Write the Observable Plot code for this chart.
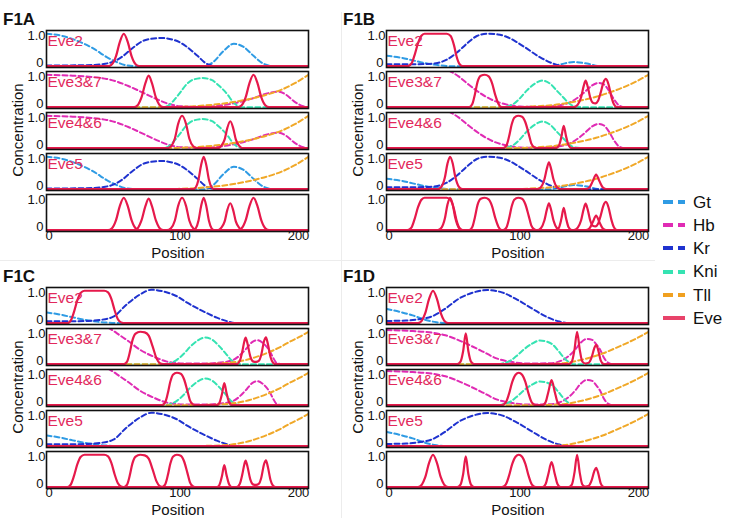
<!DOCTYPE html>
<html><head><meta charset="utf-8">
<script src="https://cdn.jsdelivr.net/npm/d3@7"></script>
<script src="https://cdn.jsdelivr.net/npm/@observablehq/plot@0.6"></script>
<style>
body{margin:0;background:#fff;font-family:"Liberation Sans",Arial,sans-serif;}
#root{position:relative;width:729px;height:518px;overflow:hidden;background:#fff;}
.abs{position:absolute;white-space:nowrap;line-height:1;}
.title{font-weight:bold;font-size:17px;color:#111;}
.xl{font-size:15px;color:#111;transform:translateX(-50%);line-height:0.7;}
.yl{font-size:15px;color:#111;transform:translate(-50%,-50%) rotate(-90deg);}
.leg{font-size:17px;color:#111;}
svg{overflow:visible;}
</style></head><body><div id="root"></div><script>
// ---------- data ----------
const genes = ["Gt","Hb","Kr","Kni","Tll","Eve"];
const colors = ["#2f9be4","#e02bb4","#1f32cf","#35e3b2","#f0a828","#e6194b"];
const legendColors = ["#2f9be4","#e02bb4","#1f32cf","#35e3b2","#f0a020","#e8436a"];
const subLabels = ["Eve2","Eve3&7","Eve4&6","Eve5",""];
const subGenes = [["Gt","Kr"],["Hb","Kni","Tll"],["Hb","Kni","Tll"],["Gt","Kr","Tll"],[]];
const xTicks = [0,100,200];
const yTicks = [0,1];
const panelTitles = ["F1A","F1B","F1C","F1D"];

// Panel A
const A_Gt = [[0,1.0],[10,0.95],[23,0.79],[36,0.54],[46,0.28],[54,0.12],[62,0.02],[70,0],[120,0],[127,0.12],[135,0.46],[143,0.69],[151,0.58],[158,0.32],[166,0.07],[174,0],[200,0]];
const A_Hb = [[0,1.0],[20,0.97],[35,0.93],[46,0.87],[55,0.77],[62,0.66],[74,0.44],[84,0.25],[92,0.12],[102,0.03],[115,0.01],[130,0.04],[143,0.12],[158,0.28],[170,0.44],[177,0.48],[183,0.38],[189,0.18],[196,0.03],[200,0]];
const A_Kr = [[0,0.02],[30,0.03],[42,0.06],[51,0.14],[58,0.3],[66,0.57],[75,0.8],[87,0.87],[98,0.8],[107,0.6],[115,0.33],[122,0.08],[128,0.01],[135,0],[200,0]];
const A_Kni = [[0,0],[88,0],[93,0.05],[97,0.2],[102,0.45],[107,0.71],[112,0.85],[119,0.9],[126,0.84],[132,0.65],[138,0.4],[142,0.18],[146,0.04],[150,0],[200,0]];
const A_Tll = [[0,0],[80,0],[100,0.01],[120,0.05],[140,0.14],[160,0.3],[170,0.41],[180,0.55],[190,0.75],[200,1.0]];
const A_Eve2 = [[0,0],[47,0],[50,0.06],[53,0.3],[56,0.75],[59,1.0],[62,0.75],[65,0.3],[68,0.06],[71,0],[200,0]];
const A_Eve37 = [[0,0],[67,0],[70,0.08],[72.5,0.3],[75.5,0.74],[78,0.97],[80.5,0.74],[83.5,0.3],[86,0.08],[89,0],[146,0],[149,0.06],[152,0.3],[155,0.75],[158,1.0],[161,0.75],[164,0.3],[167,0.06],[170,0],[200,0]];
const A_Eve46 = [[0,0],[92,0],[95,0.06],[98,0.3],[100.5,0.75],[103.5,1.0],[106.5,0.75],[109,0.3],[112,0.06],[115,0],[131,0],[133.5,0.08],[136,0.27],[138,0.62],[140.3,0.83],[142.5,0.62],[144.5,0.27],[147,0.08],[149.5,0],[200,0]];
const A_Eve5 = [[0,0],[112,0],[114,0.06],[116,0.29],[118,0.74],[120,1.0],[122,0.74],[124,0.29],[126,0.06],[128,0],[200,0]];

// Panel B
const B_Gt = [[0,0.32],[10,0.27],[20,0.18],[30,0.09],[40,0.03],[50,0],[125,0],[133,0.06],[143,0.13],[153,0.08],[163,0],[200,0]];
const B_Hb = [[0,1.6],[40,1.25],[49,1.1],[55,0.95],[62,0.72],[72,0.42],[82,0.2],[92,0.08],[102,0.02],[115,0.01],[128,0.04],[140,0.15],[150,0.42],[157,0.67],[162,0.75],[166,0.7],[170,0.5],[174,0.22],[178,0.04],[182,0],[200,0]];
const B_Kr = [[0,0.06],[20,0.06],[32,0.07],[39,0.1],[46,0.2],[54,0.43],[62,0.72],[69,0.93],[77,1.0],[85,0.98],[92,0.9],[105,0.6],[117,0.28],[128,0.07],[138,0],[200,0]];
const B_Kni = [[0,0],[88,0],[93,0.03],[97,0.1],[102,0.28],[107,0.51],[113,0.72],[119,0.82],[125,0.72],[130,0.51],[135,0.3],[139,0.13],[144,0.02],[150,0],[200,0]];
const B_Tll = [[0,0],[90,0],[110,0.02],[130,0.08],[145,0.18],[160,0.32],[170,0.45],[180,0.6],[190,0.78],[200,1.0]];
const B_Eve2 = [[0,0],[16,0],[19,0.08],[21.5,0.35],[24,0.7],[26.5,0.93],[29,1.0],[46,1.0],[49,0.93],[51.5,0.65],[53.5,0.3],[55.5,0.08],[58,0],[200,0]];
const B_Eve37 = [[0,0],[63,0],[65.5,0.1],[67.5,0.4],[69.5,0.78],[72,0.97],[75,1.0],[78,0.95],[80.5,0.75],[83,0.38],[85.5,0.1],[88,0],[143,0],[146,0.08],[148.5,0.3],[150.5,0.65],[152,0.82],[153.5,0.65],[155.5,0.3],[157.5,0.14],[159.5,0.12],[161.5,0.2],[163.5,0.45],[165.5,0.75],[167.5,0.87],[169.5,0.7],[171.5,0.35],[173.5,0.1],[176,0],[200,0]];
const B_Eve46 = [[0,0],[89,0],[91.5,0.08],[93.5,0.35],[95.5,0.72],[97.5,0.94],[100.5,1.0],[103.5,0.97],[106,0.8],[108.5,0.45],[110.5,0.15],[113,0.02],[115,0],[129,0],[131.5,0.07],[133.5,0.35],[135.3,0.69],[137,0.38],[139,0.09],[141.5,0],[200,0]];
const B_Eve5 = [[0,0],[39,0],[42,0.08],[44.5,0.35],[46.5,0.78],[48.5,1.0],[50.5,0.8],[52.5,0.38],[55,0.09],[58,0],[115,0],[118,0.07],[120.5,0.3],[122.5,0.65],[124,0.83],[125.5,0.65],[127.5,0.3],[130,0.07],[133,0],[152,0],[155,0.06],[157.5,0.25],[160,0.45],[162.5,0.25],[165,0.06],[168,0],[200,0]];

// Panel C
const C_Gt = [[0,0.33],[10,0.27],[20,0.18],[30,0.1],[40,0.04],[50,0.01],[58,0],[200,0]];
const C_Hb = [[0,1.6],[40,1.3],[46,1.15],[51,1.03],[56,0.89],[61.5,0.74],[72,0.43],[82,0.23],[92,0.08],[105,0.02],[120,0.02],[133,0.05],[143,0.14],[149,0.33],[153,0.5],[157,0.68],[161,0.74],[165,0.66],[168,0.54],[171,0.36],[173,0.2],[176,0.03],[180,0],[200,0]];
const C_Kr = [[0,0.06],[20,0.06],[32,0.07],[41,0.1],[51,0.2],[61,0.57],[72,0.9],[80,1.03],[90,0.97],[100,0.82],[107,0.64],[117,0.42],[123,0.3],[130,0.17],[138,0.06],[145,0],[200,0]];
const C_Kni = [[0,0],[90,0],[95,0.04],[100,0.15],[105,0.33],[110,0.55],[115,0.72],[121,0.82],[127,0.74],[132,0.55],[137,0.32],[141,0.13],[145,0.02],[150,0],[200,0]];
const C_Tll = [[0,0],[100,0],[120,0.01],[135,0.03],[145,0.07],[155,0.16],[168,0.34],[178,0.52],[186,0.7],[193,0.84],[200,1.0]];
const C_Eve2 = [[0,0],[16,0],[18.5,0.08],[21,0.35],[23.5,0.7],[26,0.93],[29,1.0],[44,1.0],[47,0.95],[49.5,0.75],[52,0.4],[54.5,0.12],[57,0.02],[60,0],[200,0]];
const C_Eve37 = [[0,0],[59,0],[61.5,0.08],[63.5,0.35],[65.5,0.72],[68,0.94],[71.5,1.0],[75,0.98],[78,0.88],[81,0.55],[84,0.18],[86.5,0.03],[89,0],[145,0],[147.5,0.1],[149.5,0.4],[151,0.7],[152,0.82],[153.5,0.62],[155.5,0.25],[158,0.08],[160,0.07],[162,0.1],[164,0.3],[166,0.7],[167.5,0.83],[169,0.62],[171,0.22],[173,0.04],[175,0],[200,0]];
const C_Eve46 = [[0,0],[88,0],[90.5,0.08],[92.5,0.35],[94.5,0.72],[96.5,0.94],[99.5,1.0],[102.5,0.97],[105,0.8],[107.5,0.45],[109.5,0.15],[112,0.02],[114,0],[130,0],[132,0.07],[134,0.35],[135.7,0.68],[137.4,0.38],[139.4,0.09],[141.5,0],[200,0]];
const C_Eve5 = [[0,0],[200,0]];

// Panel D
const D_Gt = [[0,0.44],[10,0.35],[20,0.24],[30,0.1],[38,0.03],[48,0],[200,0]];
const D_Hb = [[0,1.05],[20,1.02],[35,0.97],[45,0.89],[52,0.79],[59,0.67],[72,0.42],[84,0.18],[97,0.06],[110,0.02],[125,0.03],[133,0.1],[139,0.25],[144,0.45],[148,0.65],[153,0.78],[157,0.75],[160,0.62],[163,0.45],[166,0.2],[169,0.05],[173,0],[200,0]];
const D_Kr = [[0,0.07],[15,0.08],[26,0.13],[34,0.2],[45,0.45],[55,0.75],[65,0.93],[77,1.02],[88,0.95],[100,0.72],[112,0.43],[122,0.2],[132,0.05],[140,0],[200,0]];
const D_Kni = [[0,0],[85,0],[90,0.04],[95,0.12],[100,0.28],[105,0.46],[111,0.63],[117,0.73],[122,0.7],[127,0.6],[131,0.42],[135,0.22],[139,0.07],[143,0],[200,0]];
const D_Tll = [[0,0],[110,0],[125,0.01],[135,0.03],[145,0.1],[155,0.2],[165,0.33],[175,0.5],[185,0.68],[193,0.84],[200,1.0]];
const D_Eve2 = [[0,0],[24,0],[27,0.08],[29.5,0.3],[32.5,0.75],[35.5,1.0],[38.5,0.75],[41.5,0.3],[44,0.08],[47,0],[200,0]];
const D_Eve37 = [[0,0],[54,0],[56.5,0.08],[58.5,0.4],[60.5,0.95],[62.5,0.4],[64.5,0.08],[67,0],[139,0],[141.5,0.08],[143.5,0.45],[145.5,1.0],[147.5,0.45],[149.5,0.08],[152,0.02],[154.5,0.05],[156.5,0.2],[158.5,0.48],[160,0.6],[161.5,0.45],[163.5,0.12],[166,0],[200,0]];
const D_Eve46 = [[0,0],[88,0],[91,0.08],[93.5,0.35],[96,0.72],[98.5,0.94],[101,1.0],[103.5,0.94],[106,0.72],[108.5,0.35],[111,0.08],[114,0],[119,0],[121.5,0.1],[123.5,0.4],[126,0.77],[128.5,0.4],[130.5,0.1],[133,0],[200,0]];
const D_Eve5 = [[0,0],[200,0]];

// ---------- layout ----------
const panelData = [
  {gap:{Gt:A_Gt,Hb:A_Hb,Kr:A_Kr,Kni:A_Kni,Tll:A_Tll}, eve:[A_Eve2,A_Eve37,A_Eve46,A_Eve5]},
  {gap:{Gt:B_Gt,Hb:B_Hb,Kr:B_Kr,Kni:B_Kni,Tll:B_Tll}, eve:[B_Eve2,B_Eve37,B_Eve46,B_Eve5]},
  {gap:{Gt:C_Gt,Hb:C_Hb,Kr:C_Kr,Kni:C_Kni,Tll:C_Tll}, eve:[C_Eve2,C_Eve37,C_Eve46,C_Eve5]},
  {gap:{Gt:D_Gt,Hb:D_Hb,Kr:D_Kr,Kni:D_Kni,Tll:D_Tll}, eve:[D_Eve2,D_Eve37,D_Eve46,D_Eve5]}
];
const panelPos = [{left:0,top:0},{left:340,top:0},{left:0,top:257},{left:340,top:257}];
const W = 322, H = 257, ML = 46, MR = 14, MT = 28, MB = 24;
const font = '"Liberation Sans",Arial,sans-serif';

function panelPlot(p){
  const gapRows = [], eveRows = [], labelRows = [];
  subGenes.forEach((gs,i) => gs.forEach(g => p.gap[g].forEach(([x,y]) => gapRows.push({s:i+1,gene:g,key:g+i,x,y}))));
  p.eve.forEach((arr,i) => arr.forEach(([x,y]) => {
    eveRows.push({s:i+1,gene:"Eve",key:"E"+i,x,y});
    eveRows.push({s:5,gene:"Eve",key:"E"+i,x,y});
  }));
  subLabels.forEach((t,i) => { if (t) labelRows.push({s:i+1,t}); });
  return Plot.plot({
    width:W, height:H, marginTop:MT, marginLeft:ML, marginRight:MR, marginBottom:MB,
    style:{fontFamily:font, background:"transparent", overflow:"visible"},
    x:{domain:[0,200]},
    y:{domain:[-0.04,1.1]},
    fy:{domain:[1,2,3,4,5], axis:null, paddingInner:0.1, paddingOuter:0},
    color:{domain:genes, range:colors},
    marks:[
      Plot.line(gapRows,{x:"x",y:"y",z:"key",stroke:"gene",fy:"s",curve:"monotone-x",strokeWidth:2,strokeDasharray:"5,3",clip:true}),
      Plot.line(eveRows,{x:"x",y:"y",z:"key",stroke:"gene",fy:"s",curve:"monotone-x",strokeWidth:2.2,clip:true}),
      Plot.frame({stroke:"#111",strokeWidth:1.6}),
      Plot.text(labelRows,{fy:"s",text:"t",frameAnchor:"top-left",dx:1,dy:11,lineAnchor:"middle",textAnchor:"start",fill:"#e2285c",fontSize:15.5}),
      Plot.axisY({ticks:[yTicks[1]],tickFormat:() => "1.0",tickSize:0,tickPadding:1,dy:2.5,fontSize:13,label:null,color:"#111"}),
      Plot.axisY({ticks:[yTicks[0]],tickFormat:() => "0",tickSize:0,tickPadding:3,dy:-3.5,fontSize:13,label:null,color:"#111"}),
      Plot.axisX({ticks:xTicks.slice(0,2),tickSize:0,tickPadding:1,dx:2.5,dy:-2,fontSize:13,label:null,color:"#111"}),
      Plot.axisX({ticks:xTicks.slice(2),tickSize:0,tickPadding:1,dx:-10,dy:-2,fontSize:13,label:null,color:"#111"})
    ]
  });
}

const root = document.getElementById("root");
function addText(cls, txt, left, top){
  const d = document.createElement("div");
  d.className = "abs " + cls; d.textContent = txt;
  d.style.left = left + "px"; d.style.top = top + "px";
  root.appendChild(d); return d;
}
// separators
const vline = document.createElement("div");
vline.style.cssText = "position:absolute;left:341px;top:12px;width:1px;height:506px;background:#ececec;";
root.appendChild(vline);
const hline = document.createElement("div");
hline.style.cssText = "position:absolute;left:0;top:260px;width:655px;height:1px;background:#ececec;";
root.appendChild(hline);

panelData.forEach((p,i) => {
  const pos = panelPos[i];
  const svg = panelPlot(p);
  const wrap = document.createElement("div");
  wrap.style.cssText = `position:absolute;left:${pos.left}px;top:${pos.top}px;`;
  wrap.appendChild(svg);
  root.appendChild(wrap);
  addText("title", panelTitles[i], pos.left + 3, pos.top + 10.6);
  addText("xl", "Position", pos.left + (ML + W - MR)/2 + 1, pos.top + 248);
  addText("yl", "Concentration", pos.left + 17, pos.top + 130);
});

// legend
genes.forEach((g,i) => {
  const yc = 202 + i*23.2;
  const s = document.createElementNS("http://www.w3.org/2000/svg","svg");
  s.setAttribute("width",24); s.setAttribute("height",8);
  s.style.cssText = `position:absolute;left:662px;top:${yc-4}px;`;
  const l = document.createElementNS("http://www.w3.org/2000/svg","line");
  l.setAttribute("x1",1); l.setAttribute("x2",23); l.setAttribute("y1",4); l.setAttribute("y2",4);
  l.setAttribute("stroke",legendColors[i]); l.setAttribute("stroke-width",4);
  if (g !== "Eve") l.setAttribute("stroke-dasharray","10,5");
  s.appendChild(l); root.appendChild(s);
  addText("leg", g, 693, yc - 8.3);
});
</script></body></html>
